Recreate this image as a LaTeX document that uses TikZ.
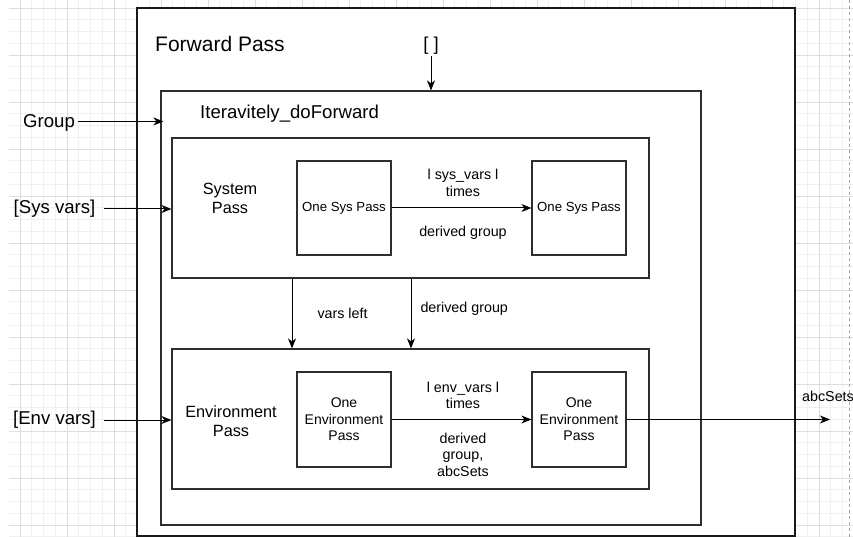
\documentclass[tikz,border=0pt]{standalone}
\usepackage{fontspec}
\setmainfont{Liberation Sans}
\usetikzlibrary{arrows.meta}

\begin{document}
\begin{tikzpicture}[x=1pt,y=-1pt,
  box/.style={draw=black!82,line width=1.2pt,fill=white,rectangle,inner sep=0pt},
  arr/.style={draw=black,line width=1pt,-{Stealth[length=10pt,width=8pt,inset=3pt]}},
  lbl/.style={font=\fontsize{14.3}{16.5}\selectfont,align=center,inner sep=0pt},
  big/.style={font=\fontsize{18.6}{22}\selectfont,inner sep=0pt},
  passlbl/.style={font=\fontsize{16.3}{19}\selectfont,align=center,inner sep=0pt},
  minorgrid/.style={draw=black!6,line width=0.8pt},
  majorgrid/.style={draw=black!13,line width=0.8pt},
]
% canvas and grid
\fill[white] (0,0) rectangle (853,537);
\useasboundingbox (0,0) rectangle (853,537);
\foreach \i in {0,...,71} {
  \draw[minorgrid] ({20+11.75*\i},0) -- ({20+11.75*\i},537);
}
\foreach \i in {0,...,45} {
  \draw[minorgrid] (9,{8+11.75*\i}) -- (853,{8+11.75*\i});
}
\foreach \i in {0,...,17} {
  \draw[majorgrid] ({20+47*\i},0) -- ({20+47*\i},537);
}
\foreach \i in {0,...,11} {
  \draw[majorgrid] (9,{8+47*\i}) -- (853,{8+47*\i});
}
\draw[black!35,dashed,line width=0.8pt] (849,0) -- (849,537);

% nested boxes
\node[box,draw=black!90,line width=1.4pt,minimum width=658pt,minimum height=528pt] (fwd) at (466,272) {};
\node[box,minimum width=540pt,minimum height=434pt] (iter) at (431,308) {};
\node[box,minimum width=477pt,minimum height=140pt] (sys) at (410.5,208) {};
\node[box,minimum width=477pt,minimum height=140pt] (env) at (410.5,419) {};

\node[box,minimum width=94pt,minimum height=94pt,font=\fontsize{13.2}{15}\selectfont] (os1) at (344,208) {One Sys Pass};
\node[box,minimum width=94pt,minimum height=94pt,font=\fontsize{13.2}{15}\selectfont] (os2) at (579,208) {One Sys Pass};
\node[box,minimum width=94pt,minimum height=95pt,align=center,font=\fontsize{14}{16.5}\selectfont] (oe1) at (344,419.5) {One\\Environment\\Pass};
\node[box,minimum width=94pt,minimum height=95pt,align=center,font=\fontsize{14}{16.5}\selectfont] (oe2) at (579,419.5) {One\\Environment\\Pass};

% titles
\node[anchor=base west,inner sep=0pt,font=\fontsize{21}{24}\selectfont] (fwdt) at (155,52) {Forward Pass};
\node[big,anchor=base west] (itert) at (200,119) {Iteravitely\_doForward};
\node[passlbl] (syst) at (230,198) {System\\Pass};
\node[passlbl] (envt) at (231,421) {Environment\\Pass};

% inputs
\node[big] (brk) at (431,45.5) {[ ]};
\node[big,anchor=base west] (grp) at (23,128) {Group};
\node[big] (sv) at (54.5,209) {[Sys vars]};
\node[big] (ev) at (54.5,420) {[Env vars]};
\coordinate (out) at (830,419.5);

% connectors
\draw[arr] ([yshift=-2pt]brk.south) -- (iter.north);
\draw[arr] ([shift={(3,-2)}]grp.east) -- ([shift={(3,-2)}]grp.east -| iter.west);
\draw[arr] ([xshift=8pt]sv.east) -- (sv -| sys.west);
\draw[arr] ([xshift=8pt]ev.east) -- (ev -| env.west);

\draw[arr] (os1) -- (os2)
  node[lbl,midway,above=11pt,xshift=1.5pt] {l sys\_vars l\\times}
  node[lbl,midway,below=17.5pt,xshift=1.5pt] {derived group};
\draw[arr] (oe1) -- (oe2)
  node[lbl,midway,above=10pt,xshift=1.5pt] {l env\_vars l\\times}
  node[lbl,midway,below=13pt,xshift=1.5pt] {derived\\group,\\abcSets};

\draw[arr] ([xshift=-118.5pt]sys.south) -- ([xshift=-118.5pt]env.north)
  node[lbl,midway,anchor=west,xshift=25pt] {vars left};
\draw[arr] ([xshift=0.5pt]sys.south) -- ([xshift=0.5pt]env.north)
  node[lbl,midway,anchor=west,xshift=9pt,yshift=4.5pt] {derived group};

\draw[arr] (oe2.east) -- (out)
  node[lbl,pos=1,above=17pt,xshift=-2pt] {abcSets};
\end{tikzpicture}
\end{document}
